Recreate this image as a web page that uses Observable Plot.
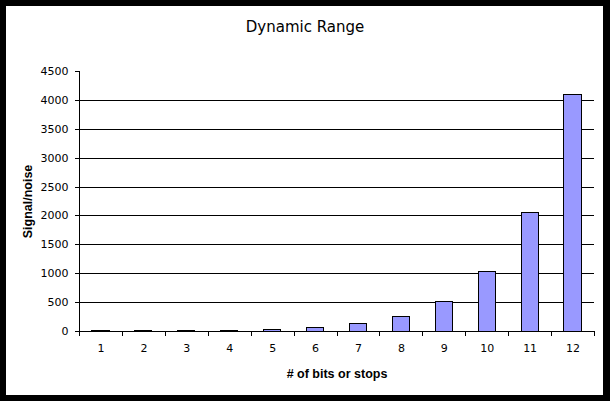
<!DOCTYPE html>
<html>
<head>
<meta charset="utf-8">
<script src="https://cdn.jsdelivr.net/npm/d3@7"></script>
<script src="https://cdn.jsdelivr.net/npm/@observablehq/plot@0.6"></script>
<style>
  html, body { margin: 0; padding: 0; background: #000; }
  #wrap { position: relative; width: 610px; height: 401px; background: #000; overflow: hidden; }
  #inner { position: absolute; left: 6px; top: 6px; width: 597px; height: 389px; background: #fff; }
  #title { position: absolute; left: 0; top: 20px; width: 610px; text-align: center;
           font: 15px "DejaVu Sans", Verdana, sans-serif; line-height: 15px; color: #000; }
  #chart { position: absolute; left: 0; top: 0; }
  #chart svg { shape-rendering: crispEdges; }
  #chart svg text { shape-rendering: auto; }
</style>
</head>
<body>
<div id="wrap">
  <div id="inner"></div>
  <div id="title">Dynamic Range</div>
  <div id="chart"></div>
</div>
<script>
const bits = [1, 2, 3, 4, 5, 6, 7, 8, 9, 10, 11, 12];
const snr = [2, 4, 8, 16, 32, 64, 128, 256, 512, 1024, 2048, 4096];
const yTicks = [0, 500, 1000, 1500, 2000, 2500, 3000, 3500, 4000, 4500];
const gridTicks = [500, 1000, 1500, 2000, 2500, 3000, 3500, 4000];
const xLabel = "# of bits or stops";
const yLabel = "Signal/noise";

const data = bits.map((b, i) => ({bits: b, snr: snr[i]}));

const W = 610, H = 401, mL = 79, mR = 16, mT = 71, mB = 70;
const step = (W - mL - mR) / bits.length;
const tickFont = "'DejaVu Sans', Verdana, sans-serif";
const labelFont = "'Liberation Sans', Arial, sans-serif";

const chart = Plot.plot({
  width: W, height: H,
  marginLeft: mL, marginRight: mR, marginTop: mT, marginBottom: mB,
  style: {background: "transparent", fontFamily: tickFont, fontSize: "11px", color: "#000", overflow: "visible"},
  x: {type: "band", domain: bits, paddingInner: 0.6, paddingOuter: 0.3, round: false},
  y: {domain: [0, 4500]},
  marks: [
    Plot.ruleY(gridTicks, {stroke: "#000", strokeWidth: 1}),
    Plot.barY(data, {x: "bits", y: "snr", fill: "#9999ff", stroke: "#000", strokeWidth: 1}),
    Plot.ruleY([0], {stroke: "#000"}),
    Plot.ruleX([bits[0]], {dx: -step / 2, y1: 0, y2: 4500, stroke: "#000"}),
    Plot.ruleX(bits, {dx: -step / 2, y1: 0, y2: 0, insetBottom: -5, stroke: "#000"}),
    Plot.ruleX([bits[bits.length - 1]], {dx: step / 2, y1: 0, y2: 0, insetBottom: -5, stroke: "#000"}),
    Plot.axisY(yTicks, {tickSize: 4, tickPadding: 7, tickFormat: d3.format("d"), label: null, fontSize: 11, stroke: "#000", fill: "#000"}),
    Plot.axisX({tickSize: 0, tickPadding: 13, label: null, fontSize: 11, fill: "#000"}),
    Plot.text([yLabel], {frameAnchor: "left", dx: -52, rotate: -90, textAnchor: "middle", lineAnchor: "middle", fontFamily: labelFont, fontWeight: "bold", fontSize: 12.5, fill: "#000"}),
    Plot.text([xLabel], {frameAnchor: "bottom", dy: 42, textAnchor: "middle", lineAnchor: "middle", fontFamily: labelFont, fontWeight: "bold", fontSize: 12.5, fill: "#000"})
  ]
});
document.getElementById("chart").appendChild(chart);
</script>
</body>
</html>
